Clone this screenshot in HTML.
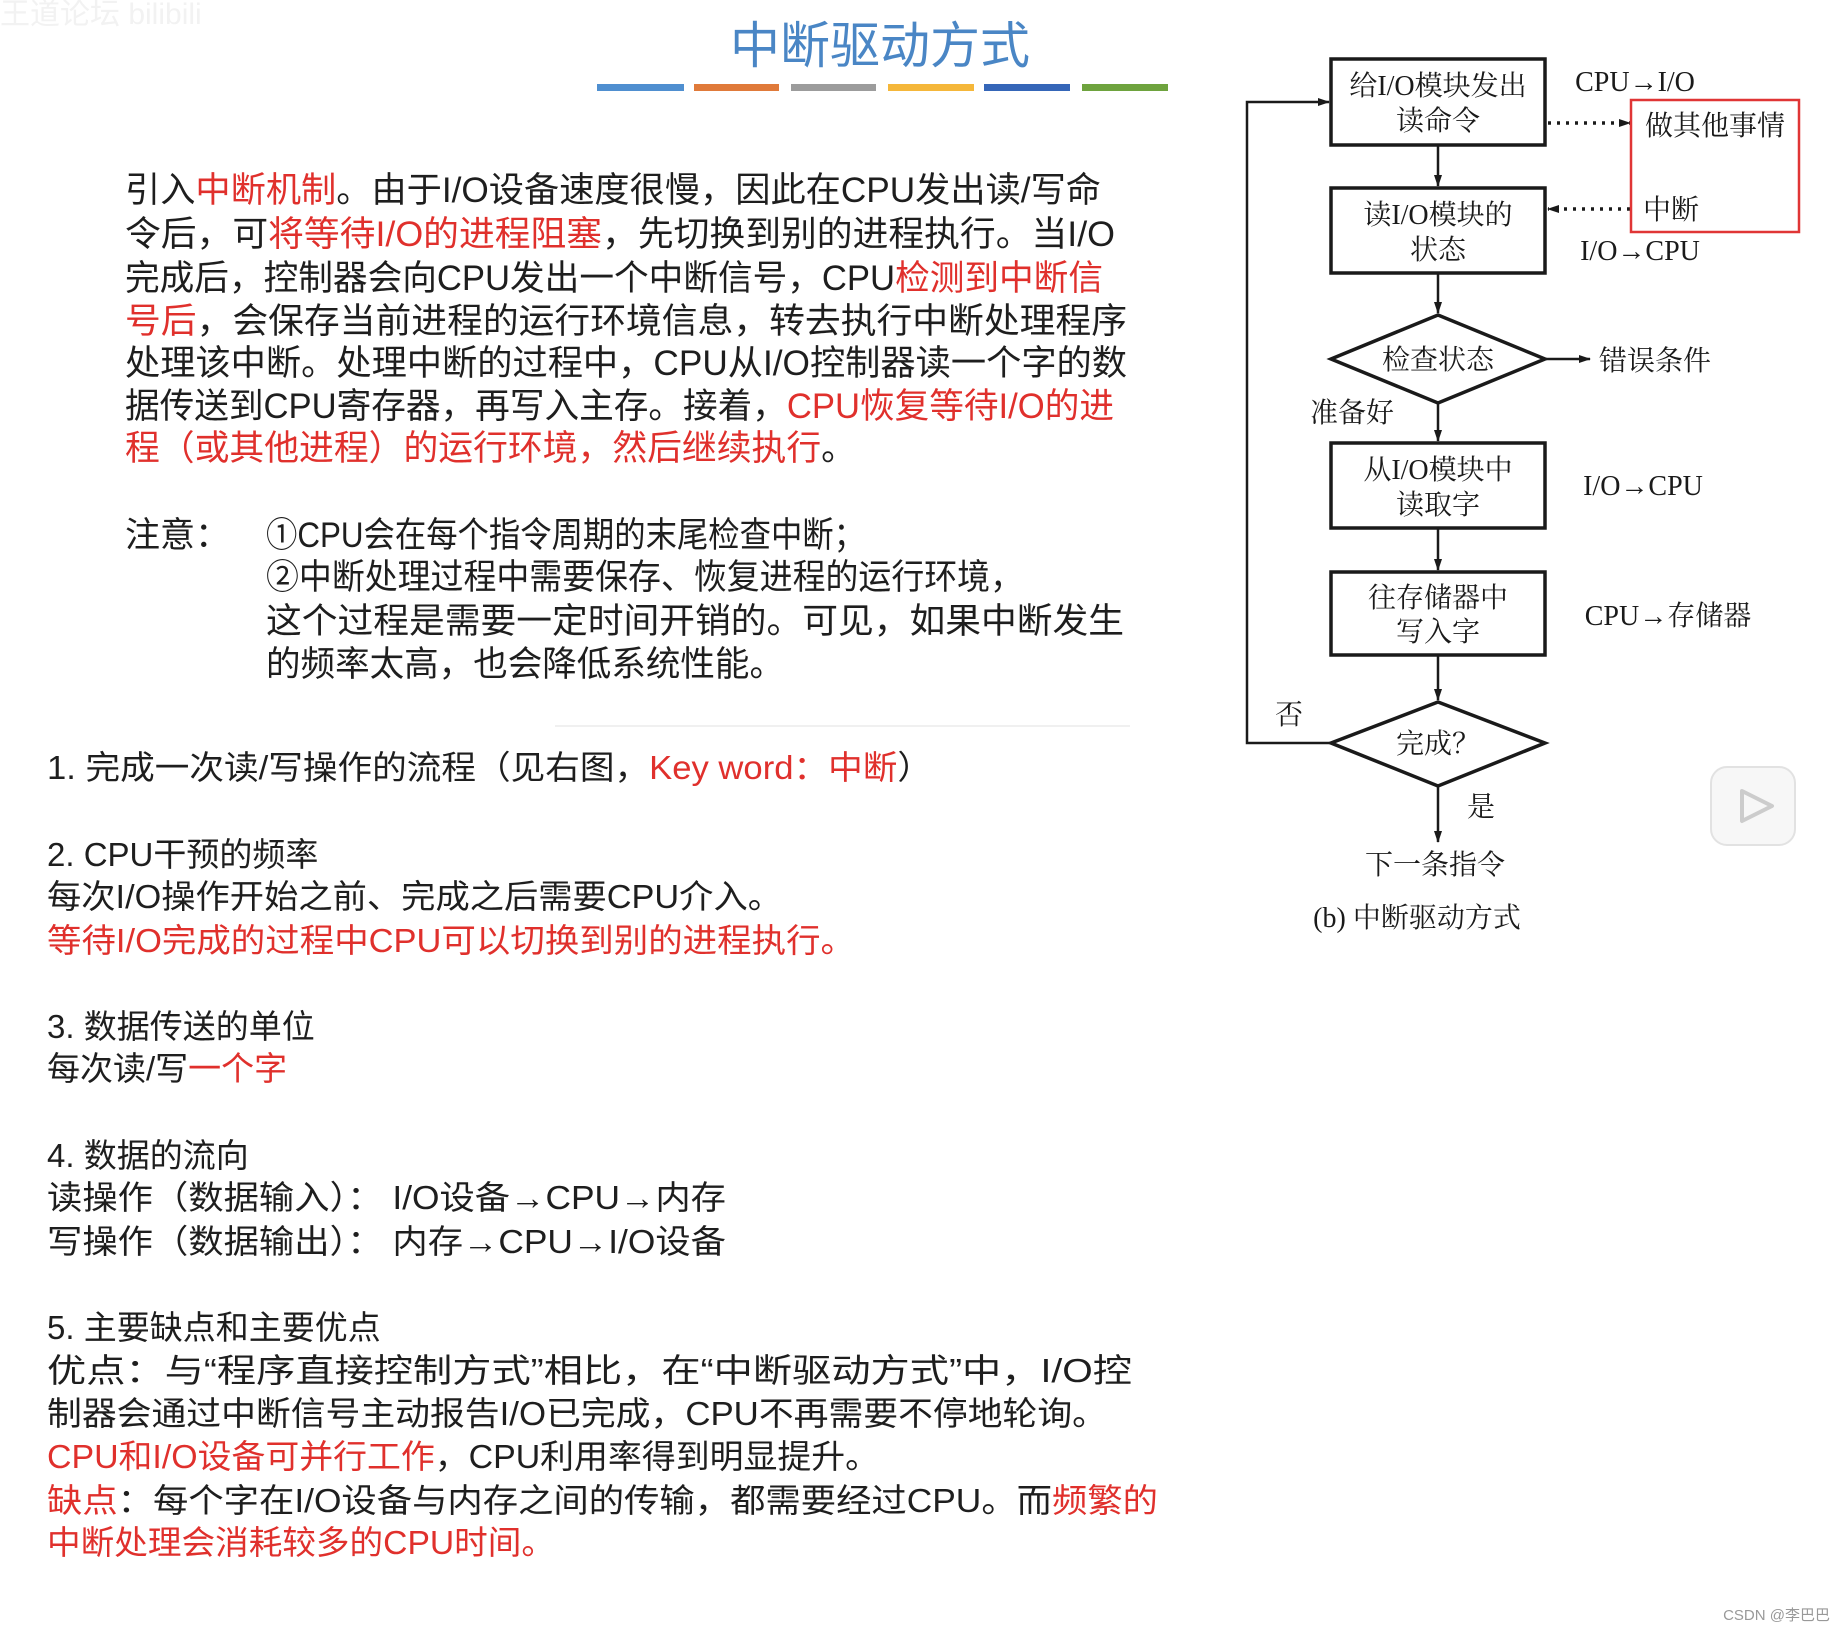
<!DOCTYPE html>
<html><head><meta charset="utf-8"><style>
html,body{margin:0;padding:0;background:#fff;}
svg{display:block}
.t{font-family:"Liberation Sans","Noto Sans CJK SC",sans-serif;fill:#1e1e1e}
.r{fill:#e0302c}
.f{font-family:"Liberation Serif","Noto Serif CJK SC",serif;fill:#1a1a1a;font-size:28px}
</style></head><body>
<svg width="1844" height="1632" viewBox="0 0 1844 1632" xmlns="http://www.w3.org/2000/svg">
<rect width="1844" height="1632" fill="#fff"/>
<text x="0" y="24" font-family="Liberation Sans,Noto Sans CJK SC,sans-serif" font-size="30" fill="#f2f2f2">王道论坛 bilibili</text>
<text x="880" y="63" text-anchor="middle" font-family="Liberation Sans,Noto Sans CJK SC,sans-serif" font-size="50" fill="#4a86c5">中断驱动方式</text>
<g>
<rect x="597" y="84" width="87" height="7" fill="#4f8fd0"/>
<rect x="694" y="84" width="85" height="7" fill="#e07a3a"/>
<rect x="791" y="84" width="85" height="7" fill="#9c9c9c"/>
<rect x="888" y="84" width="86" height="7" fill="#f5b73a"/>
<rect x="984" y="84" width="86" height="7" fill="#3566b8"/>
<rect x="1082" y="84" width="86" height="7" fill="#6ea33e"/>
</g>
<g class="t" font-size="35">
<text x="125" y="202" textLength="976" lengthAdjust="spacingAndGlyphs">引入<tspan class="r">中断机制</tspan>。由于I/O设备速度很慢，因此在CPU发出读/写命</text>
<text x="125" y="246" textLength="990" lengthAdjust="spacingAndGlyphs">令后，可<tspan class="r">将等待I/O的进程阻塞</tspan>，先切换到别的进程执行。当I/O</text>
<text x="125" y="290" textLength="978" lengthAdjust="spacingAndGlyphs">完成后，控制器会向CPU发出一个中断信号，CPU<tspan class="r">检测到中断信</tspan></text>
<text x="125" y="333" textLength="1002" lengthAdjust="spacingAndGlyphs"><tspan class="r">号后</tspan>，会保存当前进程的运行环境信息，转去执行中断处理程序</text>
<text x="125" y="375" textLength="1002" lengthAdjust="spacingAndGlyphs">处理该中断。处理中断的过程中，CPU从I/O控制器读一个字的数</text>
<text x="125" y="418" textLength="989" lengthAdjust="spacingAndGlyphs">据传送到CPU寄存器，再写入主存。接着，<tspan class="r">CPU恢复等待I/O的进</tspan></text>
<text x="125" y="460" textLength="731" lengthAdjust="spacingAndGlyphs"><tspan class="r">程（或其他进程）的运行环境，然后继续执行</tspan>。</text>
<text x="125" y="547">注意：</text>
<text x="266" y="547" textLength="599" lengthAdjust="spacingAndGlyphs">①CPU会在每个指令周期的末尾检查中断；</text>
<text x="266" y="589" textLength="757" lengthAdjust="spacingAndGlyphs">②中断处理过程中需要保存、恢复进程的运行环境，</text>
<text x="266" y="633" textLength="858" lengthAdjust="spacingAndGlyphs">这个过程是需要一定时间开销的。可见，如果中断发生</text>
<text x="266" y="676" textLength="518" lengthAdjust="spacingAndGlyphs">的频率太高，也会降低系统性能。</text>
</g>
<line x1="555" y1="726" x2="1130" y2="726" stroke="#f0f0f0" stroke-width="2"/>
<g class="t" font-size="33">
<text x="47" y="779" textLength="885" lengthAdjust="spacingAndGlyphs">1. 完成一次读/写操作的流程（见右图，<tspan class="r">Key word：中断</tspan>）</text>
<text x="47" y="866">2. CPU干预的频率</text>
<text x="47" y="908" textLength="735" lengthAdjust="spacingAndGlyphs">每次I/O操作开始之前、完成之后需要CPU介入。</text>
<text x="47" y="952" textLength="808" lengthAdjust="spacingAndGlyphs" class="r">等待I/O完成的过程中CPU可以切换到别的进程执行。</text>
<text x="47" y="1038">3. 数据传送的单位</text>
<text x="47" y="1080">每次读/写<tspan class="r">一个字</tspan></text>
<text x="47" y="1167">4. 数据的流向</text>
<text x="47" y="1209" textLength="679" lengthAdjust="spacingAndGlyphs">读操作（数据输入）： I/O设备→CPU→内存</text>
<text x="47" y="1253" textLength="679" lengthAdjust="spacingAndGlyphs">写操作（数据输出）： 内存→CPU→I/O设备</text>
<text x="47" y="1339">5. 主要缺点和主要优点</text>
<text x="47" y="1382" textLength="1085" lengthAdjust="spacingAndGlyphs">优点：与“程序直接控制方式”相比，在“中断驱动方式”中，I/O控</text>
<text x="47" y="1425" textLength="1060" lengthAdjust="spacingAndGlyphs">制器会通过中断信号主动报告I/O已完成，CPU不再需要不停地轮询。</text>
<text x="47" y="1468" textLength="832" lengthAdjust="spacingAndGlyphs"><tspan class="r">CPU和I/O设备可并行工作</tspan>，CPU利用率得到明显提升。</text>
<text x="47" y="1512" textLength="1111" lengthAdjust="spacingAndGlyphs"><tspan class="r">缺点</tspan>：每个字在I/O设备与内存之间的传输，都需要经过CPU。而<tspan class="r">频繁的</tspan></text>
<text x="47" y="1554" textLength="508" lengthAdjust="spacingAndGlyphs" class="r">中断处理会消耗较多的CPU时间。</text>
</g>
<defs><marker id="a" markerWidth="12" markerHeight="10" refX="11" refY="5" orient="auto" markerUnits="userSpaceOnUse"><path d="M0,1 L12,5 L0,9 Z" fill="#1a1a1a"/></marker></defs>
<g stroke="#1a1a1a" stroke-width="3.5" fill="none">
<rect x="1331" y="59" width="214" height="86"/>
<rect x="1331" y="188" width="214" height="85"/>
<polygon points="1331,359 1438,315 1545,359 1438,403"/>
<rect x="1331" y="443" width="214" height="85"/>
<rect x="1331" y="572" width="214" height="83"/>
<polygon points="1331,743 1438,702 1545,743 1438,786"/>
</g>
<g stroke="#1a1a1a" stroke-width="2.5" fill="none" marker-end="url(#a)">
<line x1="1438" y1="145" x2="1438" y2="186"/>
<line x1="1438" y1="273" x2="1438" y2="313"/>
<line x1="1438" y1="403" x2="1438" y2="441"/>
<line x1="1438" y1="528" x2="1438" y2="570"/>
<line x1="1438" y1="655" x2="1438" y2="700"/>
<line x1="1438" y1="786" x2="1438" y2="842"/>
<line x1="1545" y1="359" x2="1590" y2="359"/>
<polyline points="1331,743 1247,743 1247,102 1329,102"/>
<line x1="1548" y1="123" x2="1630" y2="123" stroke-dasharray="3 6" stroke-width="3.5"/>
<line x1="1630" y1="209" x2="1548" y2="209" stroke-dasharray="3 6" stroke-width="3.5"/>
</g>
<rect x="1631" y="100" width="168" height="132" fill="none" stroke="#e03535" stroke-width="2.5"/>
<g class="f">
<text x="1438" y="95" text-anchor="middle">给I/O模块发出</text>
<text x="1438" y="130" text-anchor="middle">读命令</text>
<text x="1438" y="224" text-anchor="middle">读I/O模块的</text>
<text x="1438" y="259" text-anchor="middle">状态</text>
<text x="1438" y="369" text-anchor="middle">检查状态</text>
<text x="1438" y="479" text-anchor="middle">从I/O模块中</text>
<text x="1438" y="514" text-anchor="middle">读取字</text>
<text x="1438" y="607" text-anchor="middle">往存储器中</text>
<text x="1438" y="641" text-anchor="middle">写入字</text>
<text x="1438" y="753" text-anchor="middle">完成？</text>
<text x="1635" y="91" text-anchor="middle">CPU→I/O</text>
<text x="1715" y="135" text-anchor="middle">做其他事情</text>
<text x="1671" y="219" text-anchor="middle">中断</text>
<text x="1640" y="260" text-anchor="middle">I/O→CPU</text>
<text x="1655" y="370" text-anchor="middle">错误条件</text>
<text x="1352" y="422" text-anchor="middle">准备好</text>
<text x="1643" y="495" text-anchor="middle">I/O→CPU</text>
<text x="1668" y="625" text-anchor="middle">CPU→存储器</text>
<text x="1289" y="724" text-anchor="middle">否</text>
<text x="1481" y="816" text-anchor="middle">是</text>
<text x="1435" y="874" text-anchor="middle">下一条指令</text>
<text x="1417" y="927" text-anchor="middle">(b) 中断驱动方式</text>
</g>
<rect x="1711" y="767" width="84" height="78" rx="16" fill="#f7f7f7" stroke="#e2e2e2" stroke-width="2"/>
<path d="M1742,791 L1772,806 L1742,821 Z" fill="none" stroke="#ccc" stroke-width="4" stroke-linejoin="round"/>
<text x="1830" y="1620" text-anchor="end" font-family="Liberation Sans,Noto Sans CJK SC,sans-serif" font-size="15" fill="#999">CSDN @李巴巴</text>
</svg>
</body></html>
